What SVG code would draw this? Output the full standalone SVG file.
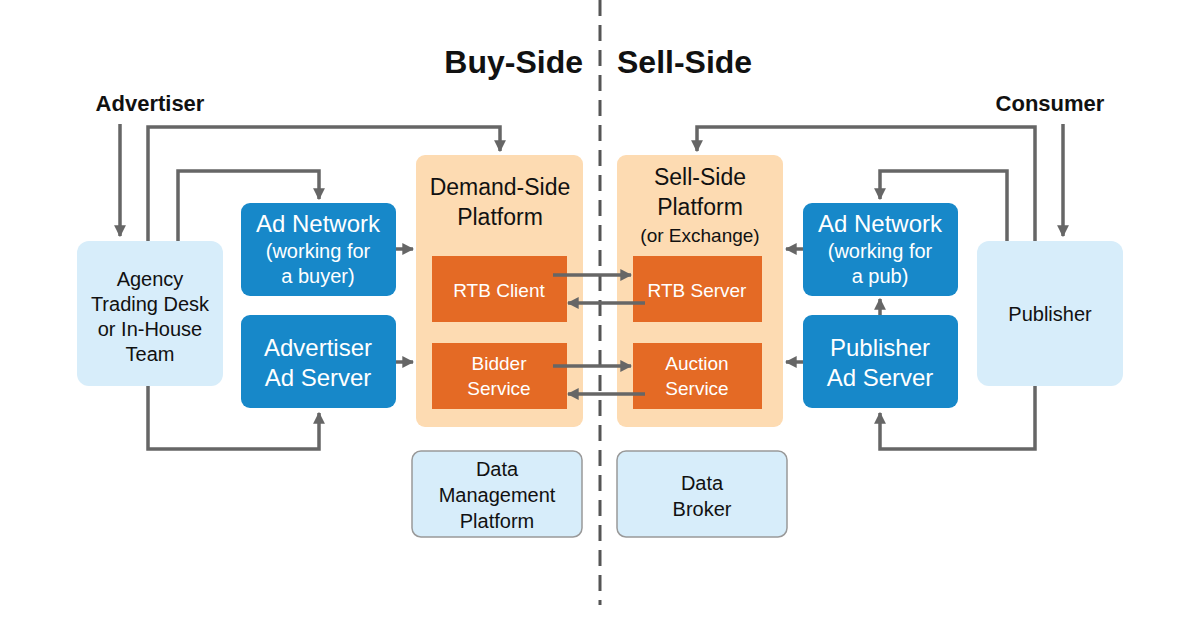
<svg xmlns="http://www.w3.org/2000/svg" width="1200" height="630" viewBox="0 0 1200 630">
<style>
text{font-family:"Liberation Sans",Arial,sans-serif;text-anchor:middle}
.lt{fill:#d7edfa}
.bl{fill:#1788c9}
.pe{fill:#fddbb2}
.or{fill:#e46a25}
.w{fill:#fff}
.k{fill:#111}
.c{fill:none;stroke:#666;stroke-width:3.5}
.h{font-weight:bold;fill:#111}
</style>
<defs><marker id="a" viewBox="0 0 10 10" refX="9" refY="5" markerWidth="3.4" markerHeight="3.4" orient="auto"><path d="M0,0L10,5L0,10z" fill="#666"/></marker></defs>
<rect width="1200" height="630" fill="#fff"/>
<line x1="600" y1="0" x2="600" y2="605" stroke="#555" stroke-width="3" stroke-dasharray="16,9"/>
<text class="h" x="583" y="73" font-size="32" style="text-anchor:end">Buy-Side</text>
<text class="h" x="617" y="73" font-size="32" style="text-anchor:start">Sell-Side</text>
<text class="h" x="150" y="111" font-size="22">Advertiser</text>
<text class="h" x="1050" y="111" font-size="22">Consumer</text>
<g id="agency"><rect class="lt" x="77" y="241" width="146" height="145" rx="12"/><text class="k" font-size="20"><tspan x="150" y="286">Agency</tspan><tspan x="150" y="311">Trading Desk</tspan><tspan x="150" y="336">or In-House</tspan><tspan x="150" y="361">Team</tspan></text></g>
<g id="adnet-buy"><rect class="bl" x="241" y="203" width="155" height="93" rx="9"/><text class="w"><tspan x="318" y="232" font-size="24">Ad Network</tspan><tspan x="318" y="258" font-size="20">(working for</tspan><tspan x="318" y="283" font-size="20">a buyer)</tspan></text></g>
<g id="adv-adserver"><rect class="bl" x="241" y="315" width="155" height="93" rx="9"/><text class="w" font-size="24"><tspan x="318" y="356">Advertiser</tspan><tspan x="318" y="386">Ad Server</tspan></text></g>
<g id="dsp"><rect class="pe" x="416" y="155" width="167" height="272" rx="9"/><text class="k" font-size="23"><tspan x="500" y="195">Demand-Side</tspan><tspan x="500" y="225">Platform</tspan></text></g>
<g id="rtb-client"><rect class="or" x="432" y="256" width="135" height="66"/><text class="w" font-size="19" x="499" y="297">RTB Client</text></g>
<g id="bidder"><rect class="or" x="432" y="343" width="135" height="66"/><text class="w" font-size="19"><tspan x="499" y="370">Bidder</tspan><tspan x="499" y="395">Service</tspan></text></g>
<g id="dmp"><rect class="lt" x="412" y="451" width="170" height="86" rx="9" stroke="#999" stroke-width="1.5"/><text class="k" font-size="20"><tspan x="497" y="476">Data</tspan><tspan x="497" y="502">Management</tspan><tspan x="497" y="528">Platform</tspan></text></g>
<g id="ssp"><rect class="pe" x="617" y="155" width="166" height="272" rx="9"/><text class="k"><tspan x="700" y="185" font-size="23">Sell-Side</tspan><tspan x="700" y="215" font-size="23">Platform</tspan><tspan x="700" y="242" font-size="19">(or Exchange)</tspan></text></g>
<g id="rtb-server"><rect class="or" x="633" y="256" width="129" height="66"/><text class="w" font-size="19" x="697" y="297">RTB Server</text></g>
<g id="auction"><rect class="or" x="633" y="343" width="129" height="66"/><text class="w" font-size="19"><tspan x="697" y="370">Auction</tspan><tspan x="697" y="395">Service</tspan></text></g>
<g id="broker"><rect class="lt" x="617" y="451" width="170" height="86" rx="9" stroke="#999" stroke-width="1.5"/><text class="k" font-size="20"><tspan x="702" y="490">Data</tspan><tspan x="702" y="516">Broker</tspan></text></g>
<g id="adnet-sell"><rect class="bl" x="803" y="203" width="155" height="93" rx="9"/><text class="w"><tspan x="880" y="232" font-size="24">Ad Network</tspan><tspan x="880" y="258" font-size="20">(working for</tspan><tspan x="880" y="283" font-size="20">a pub)</tspan></text></g>
<g id="pub-adserver"><rect class="bl" x="803" y="315" width="155" height="93" rx="9"/><text class="w" font-size="24"><tspan x="880" y="356">Publisher</tspan><tspan x="880" y="386">Ad Server</tspan></text></g>
<g id="publisher"><rect class="lt" x="977" y="241" width="146" height="145" rx="12"/><text class="k" font-size="20" x="1050" y="321">Publisher</text></g>
<g id="connectors">
<path class="c" marker-end="url(#a)" d="M120,124V236"/>
<path class="c" marker-end="url(#a)" d="M148,241V127H500V151"/>
<path class="c" marker-end="url(#a)" d="M178,241V171H319V199"/>
<path class="c" marker-end="url(#a)" d="M148,386V449H319V413"/>
<path class="c" marker-end="url(#a)" d="M396,249H413"/>
<path class="c" marker-end="url(#a)" d="M396,362H413"/>
<path class="c" marker-end="url(#a)" d="M553,275H631"/>
<path class="c" marker-end="url(#a)" d="M645,303H568"/>
<path class="c" marker-end="url(#a)" d="M553,366H631"/>
<path class="c" marker-end="url(#a)" d="M645,394H568"/>
<path class="c" marker-end="url(#a)" d="M1063,124V236"/>
<path class="c" marker-end="url(#a)" d="M1035,241V127H697V151"/>
<path class="c" marker-end="url(#a)" d="M1007,241V171H880V199"/>
<path class="c" marker-end="url(#a)" d="M1035,386V449H880V413"/>
<path class="c" marker-end="url(#a)" d="M880,315V299"/>
<path class="c" marker-end="url(#a)" d="M803,249H786"/>
<path class="c" marker-end="url(#a)" d="M803,362H786"/>
</g>
</svg>
